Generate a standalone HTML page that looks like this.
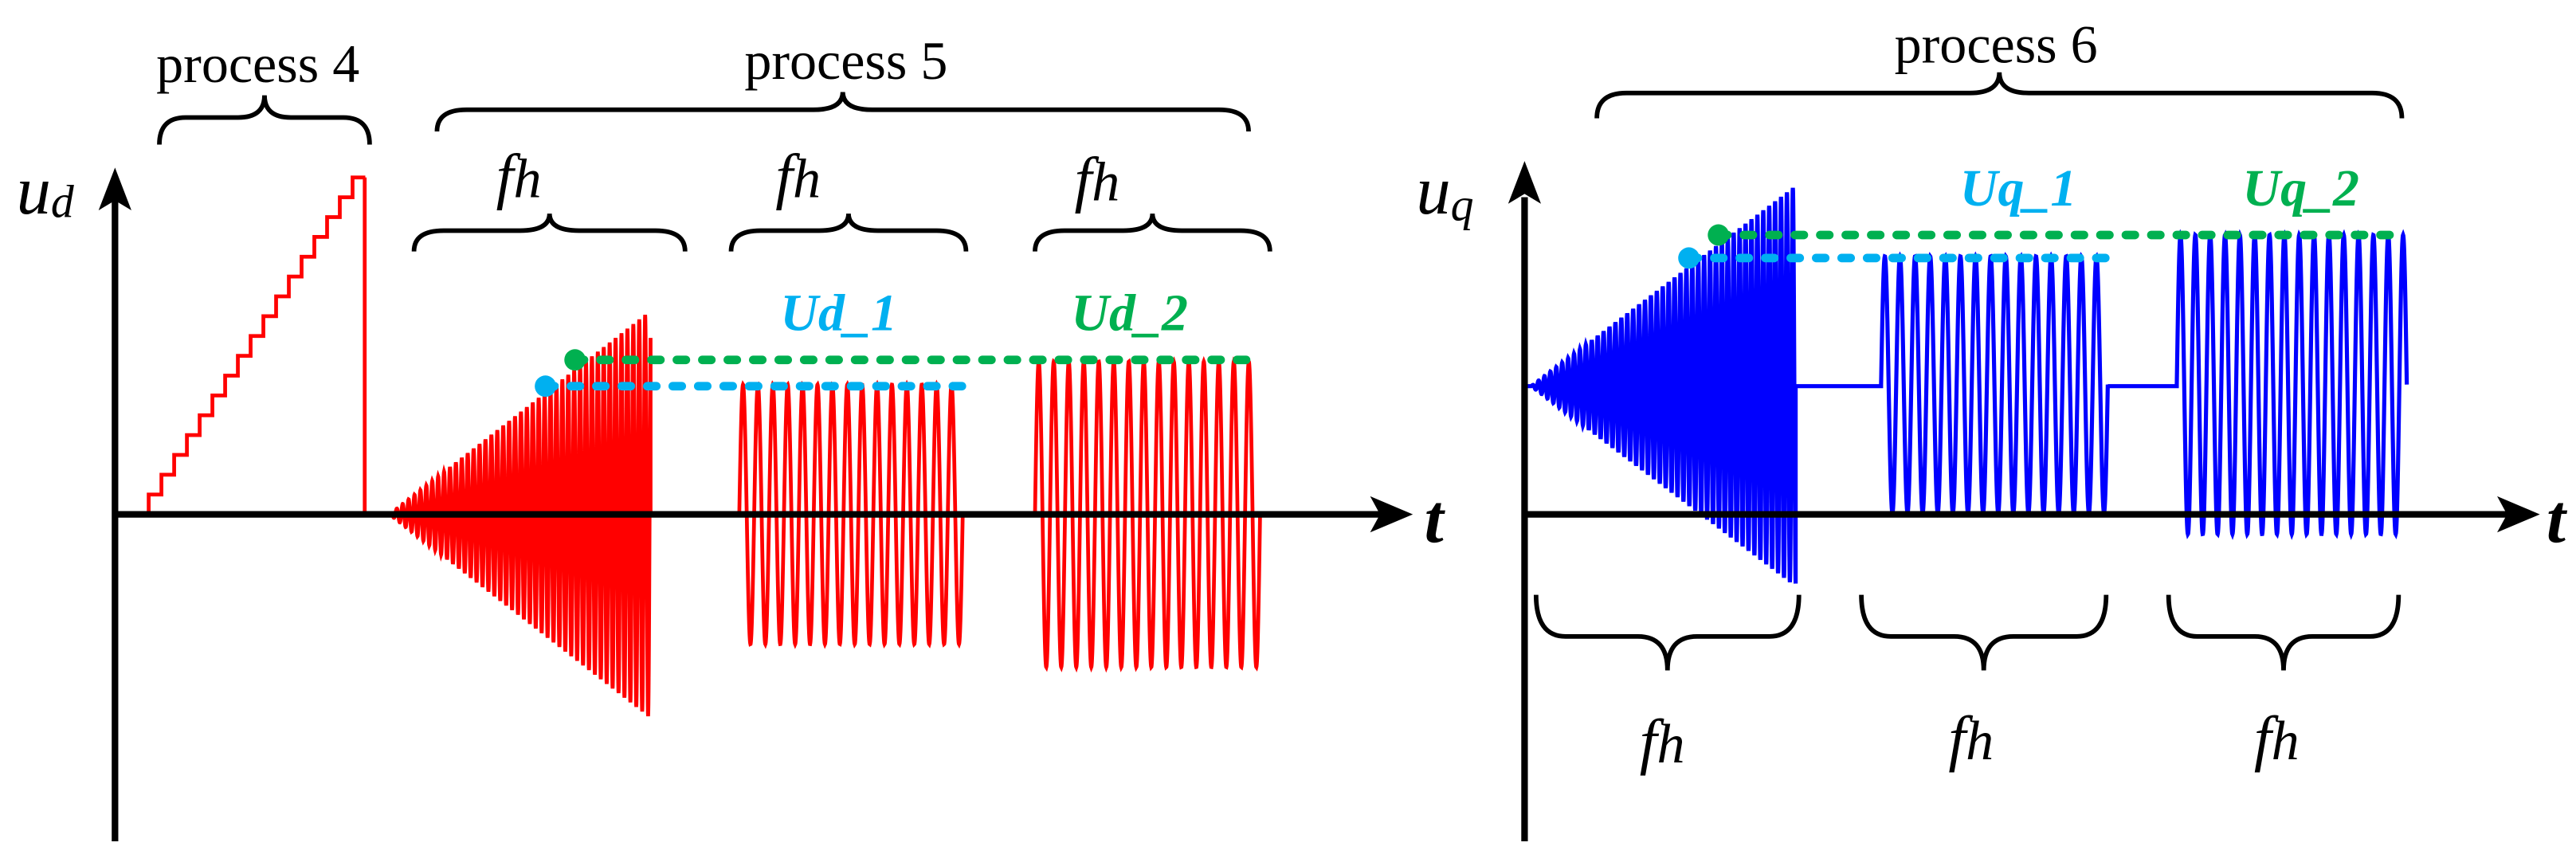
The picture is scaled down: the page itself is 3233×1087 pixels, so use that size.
<!DOCTYPE html>
<html><head><meta charset="utf-8">
<style>
html,body{margin:0;padding:0;background:#fff;}
svg{display:block;}
text{font-family:"Liberation Serif",serif;}
</style></head>
<body>
<svg id="s" xmlns="http://www.w3.org/2000/svg" width="3233" height="1087" viewBox="0 0 1568 527" preserveAspectRatio="none">
<g id="waves"></g>
<!-- left axes -->
<line x1="70" y1="120" x2="70" y2="512" stroke="#000" stroke-width="4"/>
<polygon points="70,102 60,128 70,122 80,128" fill="#000"/>
<line x1="70" y1="313" x2="842" y2="313" stroke="#000" stroke-width="4"/>
<polygon points="860,313 834,302 840,313 834,324" fill="#000"/>
<!-- right axes -->
<line x1="928" y1="120" x2="928" y2="512" stroke="#000" stroke-width="4"/>
<polygon points="928,98 918,124 928,118 938,124" fill="#000"/>
<line x1="928" y1="313" x2="1528" y2="313" stroke="#000" stroke-width="4"/>
<polygon points="1546,313 1520,302 1526,313 1520,324" fill="#000"/>
<g id="braces" fill="none" stroke="#000" stroke-width="2.8"></g>
<g id="dots"></g>
<!-- labels -->
<text x="157" y="50" font-size="33" text-anchor="middle">process 4</text>
<text x="515" y="48" font-size="33" text-anchor="middle">process 5</text>
<text x="1215" y="38" font-size="33" text-anchor="middle">process 6</text>
<text x="10" y="130" font-size="42" font-style="italic">u<tspan font-size="28" dy="2">d</tspan></text>
<text x="862" y="130" font-size="42" font-style="italic">u<tspan font-size="28" dy="4">q</tspan></text>
<text x="867" y="330" font-size="42" font-style="italic" font-weight="bold">t</text>
<text x="1550" y="330" font-size="42" font-style="italic" font-weight="bold">t</text>
<g font-size="38" font-style="italic">
<text x="302" y="120">f<tspan font-size="34">h</tspan></text>
<text x="472" y="120">f<tspan font-size="34">h</tspan></text>
<text x="654" y="122">f<tspan font-size="34">h</tspan></text>
<text x="998" y="464">f<tspan font-size="34">h</tspan></text>
<text x="1186" y="462">f<tspan font-size="34">h</tspan></text>
<text x="1372" y="462">f<tspan font-size="34">h</tspan></text>
</g>
<g font-size="32" font-style="italic" font-weight="bold">
<text x="475" y="201" fill="#00b0f0">Ud_1</text>
<text x="652" y="201" fill="#00b050">Ud_2</text>
<text x="1193" y="125" fill="#00b0f0">Uq_1</text>
<text x="1365" y="125" fill="#00b050">Uq_2</text>
</g>
</svg>
<script>
var NS="http://www.w3.org/2000/svg";
function el(p,tag,attrs){var e=document.createElementNS(NS,tag);for(var k in attrs)e.setAttribute(k,attrs[k]);document.getElementById(p).appendChild(e);return e;}
function brace(x1,x2,yE,yT){
 var mid=(x1+x2)/2, yM=yE+(yT-yE)*0.55, r=Math.min(18,(x2-x1)/8);
 var d="M"+x1+" "+yE+" Q"+x1+" "+yM+" "+(x1+r)+" "+yM+" L"+(mid-r)+" "+yM+" Q"+mid+" "+yM+" "+mid+" "+yT+
 " Q"+mid+" "+yM+" "+(mid+r)+" "+yM+" L"+(x2-r)+" "+yM+" Q"+x2+" "+yM+" "+x2+" "+yE;
 el("braces","path",{d:d});
}
brace(97,225,88,58);
brace(266,760,80,56);
brace(252,417,153,130);
brace(445,588,153,130);
brace(630,773,153,130);
brace(972,1462,72,44);
brace(935,1095,362,408);
brace(1133,1282,362,408);
brace(1320,1460,362,408);
function pts(arr){return arr.map(function(p){return p[0].toFixed(2)+","+p[1].toFixed(2)}).join(" ");}
var L=[];
L.push([72,313],[90.5,313]);
var steps=17, y=313, dx=(214.6-90.5)/16, dy=(313-108)/17;
for(var i=0;i<steps;i++){var x=90.5+i*dx; L.push([x,y]); y-=dy; L.push([x,y]); L.push([x+dx,y]);}
L.push([222,108],[222,313],[237,313]);
function chirp(arr,x0,x1,c,A,per){var n=Math.round((x1-x0)*10);for(var i=0;i<=n;i++){var x=x0+(x1-x0)*i/n;var t=(x-x0)/(x1-x0);arr.push([x,c-A*t*Math.sin(2*Math.PI*(x-x0)/per)]);}}
function block(arr,x0,x1,c,A,cyc){var per=(x1-x0)/cyc;var n=Math.round((x1-x0)*8);for(var i=0;i<=n;i++){var x=x0+(x1-x0)*i/n;arr.push([x,c-A*Math.sin(2*Math.PI*(x-x0)/per)]);}}
chirp(L,237,396,313,124,3.6);
L.push([396,313],[450,313]);
block(L,450,586,313,79,15);
L.push([586,313],[630,313]);
block(L,630,767,313,93,15);
L.push([767,313],[830,313]);
el("waves","polyline",{points:pts(L),fill:"none",stroke:"#ff0000","stroke-width":"2.3"});
var R=[];
R.push([930,235]);
chirp(R,932,1093,235,122,3.6);
R.push([1093,235],[1145,235]);
block(R,1145,1283,234,78,15);
R.push([1283,235],[1325,235]);
block(R,1325,1465,234,91,15.5);
el("waves","polyline",{points:pts(R),fill:"none",stroke:"#0000ff","stroke-width":"2.5"});
function dl(x1,x2,y,col){el("dots","line",{x1:x1,y1:y,x2:x2,y2:y,stroke:col,"stroke-width":"5.2","stroke-linecap":"round","stroke-dasharray":"5.5 10"});el("dots","circle",{cx:x1,cy:y,r:6.5,fill:col});}
dl(350,766,219,"#00b050");
dl(332,587,235,"#00b0f0");
dl(1046,1456,143,"#00b050");
dl(1028,1283,157,"#00b0f0");
</script>
</body></html>
